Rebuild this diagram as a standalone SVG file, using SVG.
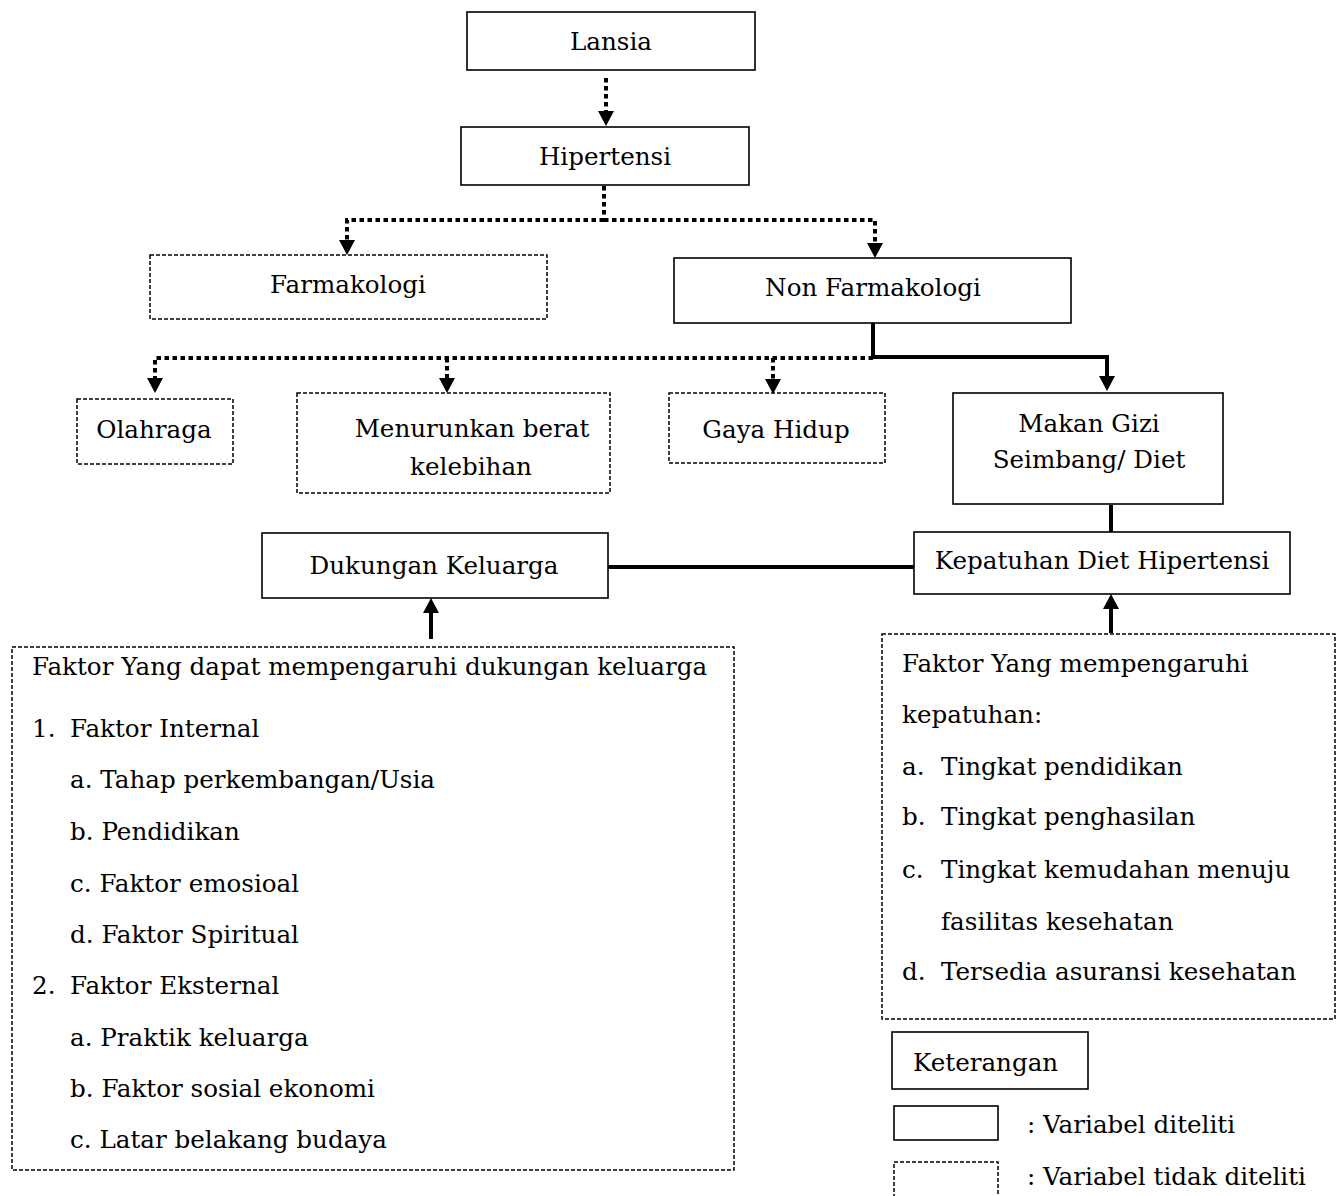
<svg xmlns="http://www.w3.org/2000/svg" width="1336" height="1196" viewBox="0 0 1336 1196">
<style>
text{font-family:"DejaVu Serif","Liberation Serif",serif;font-size:24.6px;fill:#000}
.c{text-anchor:middle}
.solid{fill:#fff;stroke:#000;stroke-width:1.6}
.dash{fill:#fff;stroke:#000;stroke-width:1.5;stroke-dasharray:4 2}
.dot{fill:none;stroke:#000;stroke-width:4;stroke-dasharray:4.5 3.5}
.thick{fill:none;stroke:#000;stroke-width:4}
</style>
<defs>
<marker id="ah" viewBox="0 0 15 16" refX="0" refY="8" markerWidth="15" markerHeight="16" markerUnits="userSpaceOnUse" orient="auto">
<path d="M0,0 L15,8 L0,16 z" fill="#000"/>
</marker>
</defs>
<g id="connectors">
<path class="dot" d="M606,78 V111" marker-end="url(#ah)"/>
<path class="dot" d="M604,186 V220"/>
<path class="dot" d="M604,220 H347 V240" marker-end="url(#ah)"/>
<path class="dot" d="M604,220 H875 V243" marker-end="url(#ah)"/>
<path class="dot" d="M873,358 H155 V378" marker-end="url(#ah)"/>
<path class="dot" d="M447,358 V378" marker-end="url(#ah)"/>
<path class="dot" d="M773,358 V379" marker-end="url(#ah)"/>
<path class="thick" d="M873,323 V357 H1107 V376" marker-end="url(#ah)"/>
<path class="thick" d="M1111,505 V532"/>
<path class="thick" d="M608,567 H914"/>
<path class="thick" d="M431,639 V613" marker-end="url(#ah)"/>
<path class="thick" d="M1111,633 V609" marker-end="url(#ah)"/>
</g>
<g id="lansia"><rect class="solid" x="467" y="12" width="288" height="58"/><text class="c" x="611" y="50">Lansia</text></g>
<g id="hipertensi"><rect class="solid" x="461" y="127" width="288" height="58"/><text class="c" x="605" y="165">Hipertensi</text></g>
<g id="farmakologi"><rect class="dash" x="150" y="255" width="397" height="64"/><text class="c" x="348" y="293">Farmakologi</text></g>
<g id="nonfarmakologi"><rect class="solid" x="674" y="258" width="397" height="65"/><text class="c" x="873" y="296">Non Farmakologi</text></g>
<g id="olahraga"><rect class="dash" x="77" y="399" width="156" height="65"/><text class="c" x="154" y="438">Olahraga</text></g>
<g id="menurunkan"><rect class="dash" x="297" y="393" width="313" height="100"/><text class="c" x="472" y="437">Menurunkan berat</text><text class="c" x="471" y="475">kelebihan</text></g>
<g id="gayahidup"><rect class="dash" x="669" y="393" width="216" height="70"/><text class="c" x="776" y="438">Gaya Hidup</text></g>
<g id="makangizi"><rect class="solid" x="953" y="393" width="270" height="111"/><text class="c" x="1089" y="432">Makan Gizi</text><text class="c" x="1089" y="468">Seimbang/ Diet</text></g>
<g id="dukungan"><rect class="solid" x="262" y="533" width="346" height="65"/><text class="c" x="434" y="574">Dukungan Keluarga</text></g>
<g id="kepatuhan"><rect class="solid" x="914" y="532" width="376" height="62"/><text class="c" x="1102" y="569">Kepatuhan Diet Hipertensi</text></g>
<g id="faktor-dukungan">
<rect class="dash" x="12" y="647" width="722" height="523"/>
<text x="32" y="675">Faktor Yang dapat mempengaruhi dukungan keluarga</text>
<text x="32" y="737">1.</text><text x="70" y="737">Faktor Internal</text>
<text x="70" y="788">a. Tahap perkembangan/Usia</text>
<text x="70" y="840">b. Pendidikan</text>
<text x="70" y="892">c. Faktor emosioal</text>
<text x="70" y="943">d. Faktor Spiritual</text>
<text x="32" y="994">2.</text><text x="70" y="994">Faktor Eksternal</text>
<text x="70" y="1046">a. Praktik keluarga</text>
<text x="70" y="1097">b. Faktor sosial ekonomi</text>
<text x="70" y="1148">c. Latar belakang budaya</text>
</g>
<g id="faktor-kepatuhan">
<rect class="dash" x="882" y="634" width="453" height="385"/>
<text x="902" y="672">Faktor Yang mempengaruhi</text>
<text x="902" y="723">kepatuhan:</text>
<text x="902" y="775">a.</text><text x="941" y="775">Tingkat pendidikan</text>
<text x="902" y="825">b.</text><text x="941" y="825">Tingkat penghasilan</text>
<text x="902" y="878">c.</text><text x="941" y="878">Tingkat kemudahan menuju</text>
<text x="941" y="930">fasilitas kesehatan</text>
<text x="902" y="980">d.</text><text x="941" y="980">Tersedia asuransi kesehatan</text>
</g>
<g id="legend">
<rect class="solid" x="892" y="1032" width="196" height="57"/><text x="913" y="1071">Keterangan</text>
<rect class="solid" x="894" y="1106" width="104" height="34"/><text x="1027" y="1133">: Variabel diteliti</text>
<rect class="dash" x="894" y="1162" width="104" height="40"/><text x="1027" y="1185">: Variabel tidak diteliti</text>
</g>
</svg>
